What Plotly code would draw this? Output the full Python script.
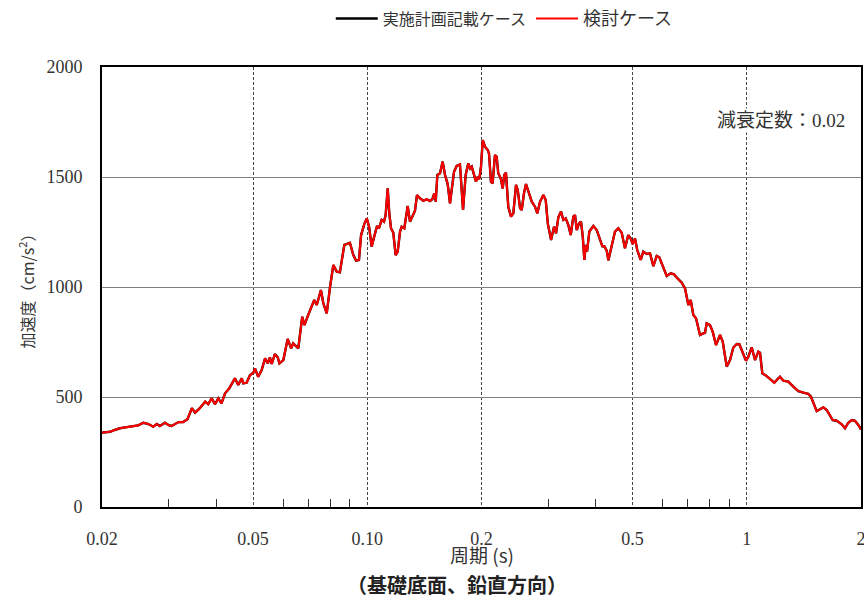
import plotly.graph_objects as go

period = [0.0200, 0.0210, 0.0216, 0.0223, 0.0230, 0.0237, 0.0242, 0.0249, 0.0257, 0.0265,
          0.0273, 0.0279, 0.0284, 0.0293, 0.0299, 0.0305, 0.0318, 0.0327, 0.0336, 0.0345,
          0.0352, 0.0362, 0.0374, 0.0381, 0.0389, 0.0397, 0.0405, 0.0413, 0.0422, 0.0433,
          0.0448, 0.0457, 0.0467, 0.0471, 0.0481, 0.0491, 0.0501, 0.0506, 0.0516, 0.0527,
          0.0538, 0.0547, 0.0554, 0.0560, 0.0571, 0.0581, 0.0587, 0.0601, 0.0617, 0.0630,
          0.0638, 0.0658, 0.0674, 0.0683, 0.0699, 0.0711, 0.0725, 0.0736, 0.0755, 0.0766,
          0.0782, 0.0798, 0.0814, 0.0831, 0.0847, 0.0870, 0.0900, 0.0919, 0.0934, 0.0951,
          0.0963, 0.0982, 0.0997, 0.1011, 0.1027, 0.1043, 0.1061, 0.1074, 0.1091, 0.1107,
          0.1118, 0.1132, 0.1143, 0.1155, 0.1171, 0.1188, 0.1203, 0.1220, 0.1232, 0.1252,
          0.1278, 0.1296, 0.1314, 0.1336, 0.1352, 0.1377, 0.1405, 0.1434, 0.1463, 0.1484,
          0.1502, 0.1515, 0.1530, 0.1555, 0.1580, 0.1603, 0.1629, 0.1652, 0.1669, 0.1693,
          0.1720, 0.1755, 0.1788, 0.1817, 0.1846, 0.1865, 0.1885, 0.1914, 0.1934, 0.1954,
          0.1973, 0.1994, 0.2015, 0.2043, 0.2076, 0.2093, 0.2118, 0.2140, 0.2170, 0.2193,
          0.2214, 0.2247, 0.2275, 0.2296, 0.2320, 0.2353, 0.2392, 0.2426, 0.2466, 0.2492,
          0.2527, 0.2553, 0.2588, 0.2620, 0.2657, 0.2713, 0.2767, 0.2806, 0.2853, 0.2911,
          0.2953, 0.2990, 0.3050, 0.3106, 0.3144, 0.3188, 0.3240, 0.3286, 0.3334, 0.3387,
          0.3437, 0.3491, 0.3528, 0.3565, 0.3614, 0.3658, 0.3697, 0.3733, 0.3765, 0.3794,
          0.3848, 0.3942, 0.4024, 0.4106, 0.4164, 0.4214, 0.4276, 0.4318, 0.4407, 0.4496,
          0.4587, 0.4682, 0.4776, 0.4873, 0.4944, 0.5005, 0.5076, 0.5146, 0.5254, 0.5338,
          0.5449, 0.5560, 0.5673, 0.5791, 0.5883, 0.6028, 0.6152, 0.6304, 0.6430, 0.6561,
          0.6738, 0.6876, 0.6973, 0.7015, 0.7117, 0.7231, 0.7350, 0.7530, 0.7683, 0.7761,
          0.7842, 0.8001, 0.8132, 0.8298, 0.8503, 0.8643, 0.8855, 0.9034, 0.9216, 0.9409,
          0.9558, 0.9793, 0.9956, 1.0094, 1.0304, 1.0513, 1.0727, 1.0838, 1.0989, 1.1287,
          1.1566, 1.1820, 1.2037, 1.2237, 1.2485, 1.2869, 1.3265, 1.3674, 1.4094, 1.4526,
          1.4766, 1.5038, 1.5286, 1.5596, 1.5912, 1.6242, 1.6570, 1.6846, 1.7260, 1.7792,
          1.8151, 1.8519, 1.8904, 1.9285, 1.9676, 2.0000]

accel = [338, 342, 350, 358, 362, 365, 368, 371, 383, 377,
         365, 377, 368, 383, 373, 368, 386, 386, 399, 449,
         429, 449, 479, 467, 494, 467, 494, 471, 517, 540,
         585, 555, 585, 562, 565, 600, 610, 630, 592, 623,
         676, 653, 680, 650, 695, 680, 653, 668, 764, 721,
         744, 721, 865, 827, 873, 903, 941, 918, 986, 926,
         880, 1001, 1100, 1070, 1067, 1191, 1201, 1145, 1120, 1123,
         1235, 1286, 1312, 1274, 1183, 1229, 1277, 1267, 1305, 1297,
         1327, 1448, 1335, 1267, 1247, 1145, 1161, 1252, 1274, 1267,
         1368, 1297, 1323, 1347, 1418, 1403, 1392, 1399, 1391, 1399,
         1426, 1388, 1509, 1517, 1570, 1509, 1468, 1380, 1441, 1524,
         1550, 1557, 1350, 1509, 1562, 1539, 1547, 1499, 1479, 1501,
         1490, 1547, 1668, 1638, 1623, 1607, 1479, 1471, 1600, 1592,
         1517, 1494, 1448, 1509, 1520, 1365, 1320, 1335, 1464, 1441,
         1358, 1350, 1426, 1468, 1433, 1388, 1365, 1335, 1388, 1418,
         1395, 1289, 1214, 1274, 1244, 1317, 1343, 1305, 1312, 1282,
         1236, 1320, 1327, 1259, 1289, 1297, 1229, 1123, 1191, 1161,
         1252, 1277, 1259, 1215, 1185, 1185, 1165, 1121, 1191, 1252,
         1267, 1247, 1176, 1236, 1221, 1195, 1221, 1168, 1123, 1161,
         1150, 1153, 1095, 1141, 1135, 1085, 1050, 1062, 1058, 1040,
         1020, 994, 941, 918, 941, 873, 858, 782, 789, 792,
         835, 827, 797, 736, 782, 752, 638, 668, 725, 741,
         740, 691, 665, 683, 726, 668, 706, 701, 608, 595,
         580, 565, 580, 592, 574, 570, 547, 527, 520, 514,
         501, 464, 436, 444, 453, 441, 414, 395, 392, 376,
         358, 383, 395, 392, 373, 353]

series_names = ["実施計画記載ケース", "検討ケース"]
x_tickvals = [0.02, 0.05, 0.1, 0.2, 0.5, 1, 2]
x_ticktext = ["0.02", "0.05", "0.10", "0.2", "0.5", "1", "2"]
x_minor = [0.03, 0.04, 0.06, 0.07, 0.08, 0.09, 0.3, 0.4, 0.6, 0.7, 0.8, 0.9]
y_tickvals = [0, 500, 1000, 1500, 2000]

FONT = "Liberation Serif, Noto Sans CJK JP, serif"

fig = go.Figure()
fig.add_trace(go.Scatter(x=period, y=accel, mode="lines", name=series_names[0],
                         line=dict(color="#000000", width=2.4)))
fig.add_trace(go.Scatter(x=period, y=accel, mode="lines",
                         name="<span style='font-size:18px'>" + series_names[1] + "</span>",
                         line=dict(color="#ff0000", width=2.1)))

fig.update_layout(
    width=864, height=598,
    margin=dict(l=102, r=3, t=67, b=91, autoexpand=False),
    paper_bgcolor="white", plot_bgcolor="white",
    font=dict(family=FONT, color="#222222", size=16),
    showlegend=True,
    legend=dict(orientation="h", x=0.53, xanchor="center", y=1.11, yanchor="middle",
                font=dict(family="Noto Sans CJK JP", size=16, color="#333333"),
                itemwidth=42,
                bgcolor="rgba(255,255,255,0)", tracegroupgap=0),
    xaxis=dict(type="log", range=[-1.69897, 0.30103], automargin=False,
               tickvals=x_tickvals, ticktext=x_ticktext, ticks="",
               ticklabeloverflow="allow",
               tickfont=dict(family=FONT, size=18, color="#333333"),
               showgrid=True, gridcolor="#444444", griddash="3px,2px", gridwidth=1,
               showline=True, linecolor="#000000", linewidth=2, mirror=True,
               ticklabelstandoff=14,
               minor=dict(tickvals=x_minor, ticks="inside", ticklen=8,
                          tickcolor="#333333", tickwidth=1, showgrid=False),
               zeroline=False),
    yaxis=dict(range=[0, 2000], tickvals=y_tickvals, ticks="", automargin=False,
               tickfont=dict(family=FONT, size=18, color="#333333"),
               showgrid=True, gridcolor="#808080", gridwidth=1,
               showline=True, linecolor="#000000", linewidth=2, mirror=True,
               ticklabelstandoff=14, zeroline=False,
               title=dict(text="加速度（cm/s<sup>2</sup>）",
                          font=dict(family="Noto Sans CJK JP", size=16, color="#333333"),
                          standoff=8)),
    annotations=[
        dict(text="減衰定数：0.02", xref="paper", yref="paper", x=0.982, y=0.878,
             xanchor="right", yanchor="middle", showarrow=False,
             font=dict(family=FONT, size=19, color="#333333"), bgcolor="white"),
        dict(text="周期 (s)", xref="paper", yref="paper", x=0.5, y=0,
             xanchor="center", yanchor="top", yshift=-32, showarrow=False,
             font=dict(family="Noto Sans CJK JP", size=19, color="#333333")),
        dict(text="<b>（基礎底面、鉛直方向）</b>", xref="paper", yref="paper", x=0.468, y=0,
             xanchor="center", yanchor="top", yshift=-61, showarrow=False,
             font=dict(family="Noto Sans CJK JP", size=20, color="#222222")),
    ],
)

fig.write_html("out.html", config={"displayModeBar": False},
               post_script="document.body.style.margin='0';document.body.style.overflow='hidden';")
